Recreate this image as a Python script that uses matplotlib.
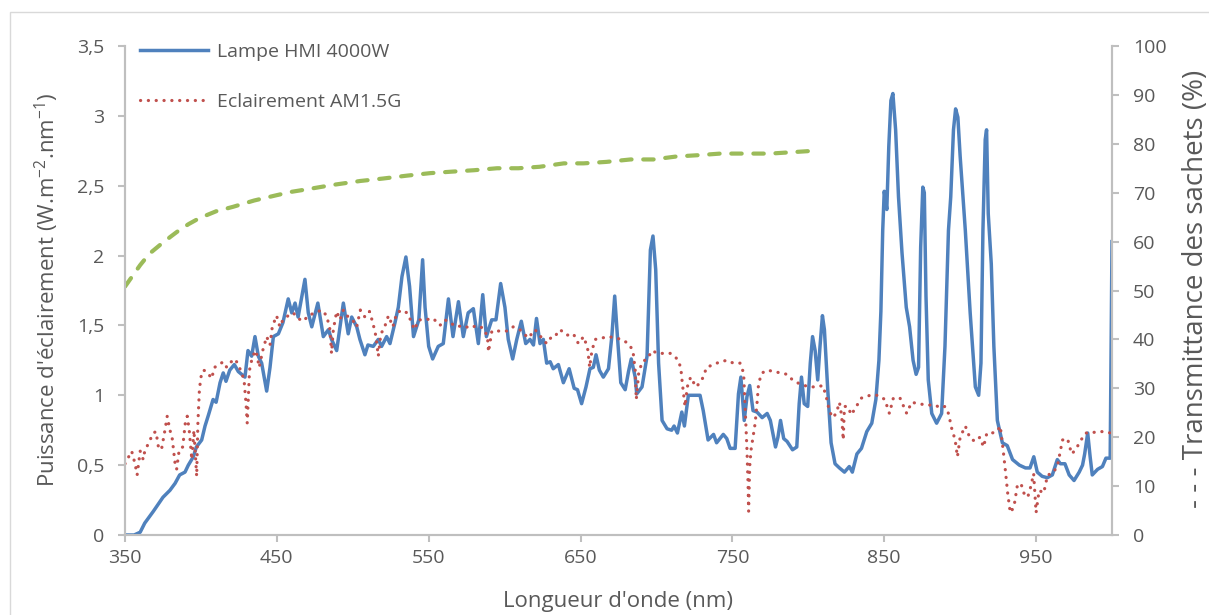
import matplotlib.pyplot as plt
from matplotlib.patches import Rectangle

plt.rcParams['font.family'] = ['Open Sans', 'DejaVu Sans']
plt.rcParams['mathtext.fontset'] = 'custom'
plt.rcParams['mathtext.rm'] = 'Open Sans'

GREY = '#595959'
AXIS_GREY = '#bfbfbf'

# lampe HMI 4000W (nm, W.m-2.nm-1)
hmi = [(350, 0.00), (356, 0.00), (360, 0.02), (363, 0.085), (368.7, 0.17), (375, 0.27),
       (379.6, 0.32), (383, 0.37), (386, 0.43), (389.5, 0.45), (391.7, 0.50), (395, 0.56),
       (397, 0.63), (400.5, 0.68), (402.7, 0.78), (405, 0.86), (408, 0.97), (410, 0.95),
       (412.6, 1.09), (414.7, 1.16), (416.5, 1.10), (419, 1.18), (422, 1.22), (424.6, 1.17),
       (429, 1.13), (431, 1.32), (433.4, 1.28), (435.6, 1.42), (437.8, 1.28), (440, 1.23),
       (443.3, 1.03), (445.5, 1.20), (447.7, 1.42), (451, 1.44), (454, 1.52), (457.5, 1.69),
       (459.8, 1.59), (462, 1.66), (464, 1.56), (466, 1.68), (468.5, 1.83), (470.7, 1.59),
       (473, 1.49), (477, 1.66), (480.6, 1.42), (484, 1.47), (486, 1.40), (489.4, 1.32),
       (493.8, 1.66), (497, 1.44), (499.3, 1.56), (502.6, 1.49), (504.7, 1.40), (508, 1.29),
       (510, 1.36), (513.5, 1.35), (516.8, 1.40), (519, 1.35), (522.3, 1.42), (524.5, 1.37),
       (527.8, 1.52), (530, 1.63), (532.4, 1.85), (535, 1.99), (537.4, 1.78), (540, 1.42),
       (543.5, 1.54), (546, 1.97), (547.6, 1.63), (550, 1.35), (552.6, 1.26), (556.3, 1.35),
       (559.6, 1.37), (563, 1.69), (566, 1.42), (569.6, 1.67), (572.8, 1.42), (576, 1.59),
       (579.4, 1.62), (582.7, 1.37), (585.6, 1.72), (588, 1.42), (591.5, 1.54), (594.3, 1.54),
       (597.4, 1.80), (600.2, 1.63), (602.4, 1.40), (605.3, 1.26), (608, 1.40), (611, 1.53),
       (613.9, 1.37), (616.7, 1.40), (619, 1.36), (621, 1.55), (623.3, 1.37), (625.5, 1.40),
       (627.7, 1.23), (630, 1.24), (632, 1.19), (635.4, 1.22), (638.7, 1.09), (642.5, 1.19),
       (645.8, 1.05), (648, 1.04), (650.7, 0.94), (653.6, 1.06), (656.2, 1.19), (658.4, 1.20),
       (660.2, 1.29), (662.4, 1.18), (665, 1.13), (668.4, 1.19), (670.6, 1.42), (672.5, 1.71),
       (674.3, 1.42), (676.5, 1.09), (679.4, 1.04), (681.6, 1.17), (683.4, 1.26), (686, 1.13),
       (687, 1.01), (690.5, 1.06), (693.8, 1.28), (696, 2.04), (697.7, 2.14), (699.5, 1.90),
       (701.4, 1.23), (703.7, 0.82), (707, 0.76), (710, 0.75), (711.6, 0.78), (713.8, 0.73),
       (716.7, 0.88), (718.4, 0.78), (721, 1.00), (725.5, 1.00), (728.7, 1.00), (730.8, 0.89),
       (734, 0.68), (737.6, 0.72), (739.6, 0.66), (744, 0.72), (746.3, 0.69), (748.5, 0.62),
       (751.8, 0.62), (754, 1.01), (755.6, 1.13), (757.8, 0.82), (759.6, 0.99), (761.4, 1.07),
       (763.6, 0.89), (766.2, 0.88), (769.6, 0.84), (772.9, 0.87), (775, 0.82), (778.4, 0.63),
       (780, 0.70), (781.7, 0.82), (783.8, 0.69), (786, 0.67), (789.6, 0.61), (792.4, 0.63),
       (794, 0.94), (795.5, 1.13), (797.3, 0.94), (799.6, 0.92), (801.3, 1.23), (802.8, 1.42),
       (804.5, 1.32), (806.2, 1.11), (807.7, 1.35), (809.3, 1.57), (810.6, 1.47), (812.8, 1.04),
       (815, 0.66), (817.6, 0.51), (820.5, 0.48), (823.8, 0.45), (827, 0.49), (829, 0.45),
       (832, 0.58), (835, 0.62), (838.5, 0.74), (841.8, 0.80), (844.5, 0.97), (846.5, 1.25),
       (847.8, 1.60), (849, 2.18), (850, 2.46), (851.7, 2.33), (853, 2.78), (854.4, 3.11),
       (855.7, 3.16), (857.5, 2.90), (859.4, 2.42), (861.7, 2.02), (864.5, 1.63), (866.7, 1.49),
       (869, 1.25), (871, 1.15), (872.6, 1.20), (874, 2.06), (875.4, 2.49), (876.4, 2.45),
       (877.5, 1.71), (879, 1.11), (881.3, 0.87), (884.5, 0.80), (887.8, 0.87), (890, 1.35),
       (892.3, 2.18), (893.8, 2.42), (895.6, 2.90), (897, 3.05), (898.5, 2.99), (900, 2.71),
       (903.4, 2.18), (906.6, 1.59), (910, 1.06), (912.2, 1.00), (913.7, 1.23), (915, 2.18),
       (916.5, 2.83), (917.4, 2.90), (918.5, 2.30), (920.5, 1.94), (922.2, 1.35), (924.5, 0.82),
       (927.8, 0.66), (931, 0.64), (934.5, 0.54), (939, 0.50), (943, 0.48), (946, 0.48),
       (948.5, 0.56), (950.8, 0.45), (954, 0.42), (957.4, 0.41), (960.7, 0.43), (964, 0.54),
       (966, 0.51), (969, 0.51), (971.8, 0.43), (975, 0.39), (978.4, 0.45), (980.6, 0.50),
       (982, 0.58), (984, 0.73), (985.6, 0.56), (987, 0.43), (990.5, 0.47), (993.7, 0.49),
       (996, 0.55), (998.8, 0.55), (1000, 2.10)]

# eclairement AM1.5G
am15 = [(350, 0.51), (354.4, 0.60), (356.6, 0.51), (358, 0.43), (360, 0.60), (362, 0.54),
        (363, 0.60), (366.5, 0.68), (368.6, 0.73), (370.4, 0.74), (372, 0.63), (374, 0.61),
        (376.3, 0.75), (377.8, 0.85), (379.6, 0.75), (381, 0.70), (383, 0.51), (384, 0.47),
        (385.7, 0.61), (388, 0.63), (389.7, 0.80), (391, 0.85), (392.3, 0.75), (394, 0.54),
        (395.4, 0.75), (396.7, 0.51), (397.2, 0.42), (398, 0.80), (399, 1.04), (400, 1.13),
        (401.6, 1.18), (404, 1.17), (407, 1.12), (409, 1.20), (412, 1.22), (414.7, 1.24),
        (417, 1.20), (420, 1.24), (422.4, 1.26), (424.6, 1.22), (426.8, 1.16), (428.4, 1.11),
        (429.7, 0.94), (430.5, 0.80), (432, 1.18), (434, 1.28), (436.3, 1.32), (438.4, 1.20),
        (440.7, 1.32), (443.3, 1.42), (445.5, 1.36), (447, 1.49), (449.8, 1.57), (452, 1.49),
        (454, 1.54), (457.5, 1.57), (460.8, 1.59), (464, 1.55), (467.4, 1.53), (470.7, 1.57),
        (475, 1.59), (479.5, 1.61), (482.8, 1.57), (485, 1.47), (486, 1.30), (487.2, 1.47),
        (489.4, 1.60), (491.6, 1.54), (493.8, 1.61), (497, 1.56), (500.4, 1.53), (502.6, 1.49),
        (505, 1.61), (508, 1.56), (511, 1.60), (513.2, 1.52), (515.3, 1.42), (516.8, 1.28),
        (518.5, 1.44), (520.7, 1.48), (523.5, 1.57), (526.4, 1.49), (529, 1.59), (532.4, 1.61),
        (535.7, 1.59), (538, 1.54), (540.6, 1.47), (543.5, 1.54), (547.6, 1.54), (553, 1.55),
        (557.4, 1.50), (560.7, 1.54), (564, 1.52), (568.4, 1.49), (572.8, 1.50), (577, 1.48),
        (581.7, 1.50), (586, 1.48), (588.7, 1.42), (589.4, 1.31), (591.6, 1.46), (597, 1.46),
        (601.3, 1.46), (605.7, 1.49), (610, 1.47), (615.6, 1.41), (620, 1.47), (624.5, 1.41),
        (627.7, 1.37), (631, 1.42), (633, 1.42), (636.5, 1.47), (641, 1.43), (645.3, 1.44),
        (648.6, 1.37), (652, 1.42), (654.6, 1.34), (656, 1.20), (657.5, 1.32), (659.7, 1.40),
        (664, 1.41), (668.5, 1.42), (673, 1.41), (677, 1.40), (681.6, 1.37), (684.5, 1.32),
        (686, 1.18), (686.7, 0.97), (688.3, 1.16), (690.6, 1.24), (693.9, 1.26), (697.2, 1.32),
        (700.6, 1.30), (705, 1.30), (709.3, 1.30), (713.7, 1.26), (716, 1.20), (717, 1.09),
        (718.8, 0.92), (720.3, 1.06), (722.5, 1.13), (726, 1.06), (728.7, 1.09), (730.8, 1.13),
        (733, 1.20), (737.6, 1.22), (742, 1.24), (746.3, 1.25), (750.7, 1.23), (755, 1.23),
        (757.4, 1.16), (758.5, 0.89), (759.6, 0.61), (760.3, 0.37), (760.7, 0.17), (761.4, 0.49),
        (762.3, 0.61), (763.6, 0.70), (765, 0.80), (766.2, 0.94), (767.3, 1.09), (769.6, 1.16),
        (773, 1.18), (777.3, 1.17), (781.7, 1.16), (786, 1.15), (789.6, 1.11), (792.7, 1.09),
        (797.3, 1.07), (801.7, 1.06), (806, 1.06), (809.5, 1.07), (811.6, 1.00), (813.8, 0.89),
        (816, 0.84), (818.4, 0.87), (820.5, 0.95), (822, 0.85), (823, 0.68), (823.8, 0.92),
        (826, 0.92), (828.3, 0.86), (831.6, 0.92), (835, 0.98), (840.7, 1.00), (846, 1.00),
        (850.4, 0.97), (853.4, 0.87), (856, 0.98), (860.4, 0.98), (864.8, 0.87), (868, 0.95),
        (872.5, 0.94), (878, 0.93), (883.5, 0.93), (887, 0.91), (890, 0.92), (892.3, 0.87),
        (894.5, 0.76), (896.7, 0.68), (898.2, 0.56), (900, 0.70), (903.4, 0.78), (906.6, 0.69),
        (910, 0.67), (913, 0.70), (915.4, 0.63), (917.6, 0.73), (921, 0.73), (924.3, 0.74),
        (926.4, 0.78), (928.3, 0.61), (929.7, 0.47), (931.3, 0.30), (933, 0.16), (935.4, 0.20),
        (937.6, 0.35), (940, 0.37), (942, 0.30), (944.5, 0.27), (946.6, 0.35), (948.4, 0.44),
        (950, 0.16), (952, 0.32), (955, 0.30), (957.6, 0.43), (960.7, 0.44), (964, 0.49),
        (967.4, 0.68), (970.7, 0.69), (973.4, 0.58), (976, 0.61), (979.6, 0.68), (982.7, 0.73),
        (986, 0.73), (990.5, 0.74), (994.8, 0.74), (999, 0.73)]

# transmittance des sachets (%), right axis
trans = [(350, 50.8), (355, 53.0), (360, 55.2), (366, 57.5), (373, 59.3), (380, 61.0),
         (386, 62.4), (392, 63.6), (399, 64.8), (410, 66.2), (421, 67.1), (435, 68.4),
         (450, 69.5), (460, 70.2), (470, 70.7), (487, 71.6), (505, 72.4), (520, 72.9),
         (536, 73.5), (551, 74.0), (565, 74.3), (580, 74.6), (595, 75.0), (609, 75.0),
         (623, 75.3), (639, 76.0), (652, 76.0), (667, 76.3), (683, 76.8), (698, 76.8),
         (713, 77.4), (729, 77.7), (742, 78.0), (760, 78.0), (775, 78.0), (790, 78.3),
         (800, 78.5)]

x_ticks = [350, 450, 550, 650, 750, 850, 950]
y_ticks = [0, 0.5, 1, 1.5, 2, 2.5, 3, 3.5]
y_labels = ['0', '0,5', '1', '1,5', '2', '2,5', '3', '3,5']
y2_ticks = list(range(0, 101, 10))

W, H = 1209, 615
fig = plt.figure(figsize=(W / 100, H / 100), dpi=100)
ax = fig.add_axes([125 / W, 1 - 535 / H, 987 / W, 489 / H])
ax2 = ax.twinx()

# chart area frame
fig.patches.append(Rectangle((10 / W, -0.1), 1.2, 1.1 - 12 / H, transform=fig.transFigure,
                             fill=False, edgecolor='#d9d9d9', lw=1))

ax.plot([p[0] for p in hmi], [p[1] for p in hmi], color='#4f81bd', lw=2.5,
        label='Lampe HMI 4000W', zorder=3)
ax.plot([p[0] for p in am15], [p[1] for p in am15], color='#c0504d', lw=2.3,
        dashes=(0.05, 2.4), dash_capstyle='round', label='Eclairement AM1.5G', zorder=4)
ax2.plot([p[0] for p in trans], [p[1] for p in trans], color='#9bbb59', lw=3.0,
         dashes=(2.5, 2.8), dash_capstyle='round')

ax.set_xlim(350, 1000)
ax.set_ylim(0, 3.5)
ax2.set_ylim(0, 100)
ax.set_xticks(x_ticks)
ax.set_yticks(y_ticks)
ax.set_yticklabels(y_labels)
ax2.set_yticks(y2_ticks)

for a in (ax, ax2):
    for s in a.spines.values():
        s.set_color(AXIS_GREY)
        s.set_linewidth(1.5)
    a.spines['top'].set_visible(False)
    a.tick_params(colors=AXIS_GREY, labelcolor=GREY, labelsize=14, length=5, width=1.5)
ax.tick_params(axis='y', pad=10)
ax.tick_params(axis='x', pad=5)
ax2.tick_params(axis='y', pad=10)

fig.text(47 / W, 1 - 290 / H,
         r"Puissance d'éclairement (W.m$^{\mathregular{-2}}$.nm$^{\mathregular{-1}}$)",
         rotation=90, ha='center', va='center', fontsize=16, color=GREY)
fig.text(618 / W, 1 - 601 / H, "Longueur d'onde (nm)", ha='center', va='center',
         fontsize=16, color=GREY)
fig.text(1196 / W, 1 - 289 / H, '- - - Transmittance des sachets (%)', rotation=90,
         ha='center', va='center', fontsize=20, color=GREY)

ax.legend(loc='upper left', bbox_to_anchor=(0.015, 1.006), frameon=False, fontsize=14,
          labelcolor=GREY, handlelength=3.5, handletextpad=0.45, labelspacing=1.62,
          borderpad=0, borderaxespad=0)

fig.savefig('out.png', dpi=100)
